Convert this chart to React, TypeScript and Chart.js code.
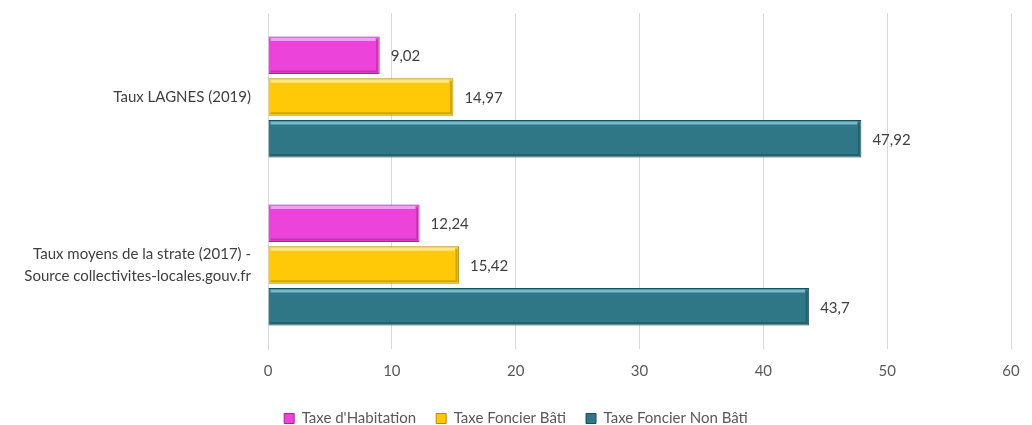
import React, { useEffect, useRef } from "react";
import { Chart, registerables } from "chart.js";

Chart.register(...registerables);

const categories: (string | string[])[] = [
  "Taux LAGNES (2019)",
  ["Taux moyens de la strate (2017) -", "Source collectivites-locales.gouv.fr"],
];
const seriesNames = ["Taxe d'Habitation", "Taxe Foncier Bâti", "Taxe Foncier Non Bâti"];
const habitation = [9.02, 12.24];
const foncierBati = [14.97, 15.42];
const foncierNonBati = [47.92, 43.7];
const xTicks = [0, 10, 20, 30, 40, 50, 60];

const FONT = "Lato, 'Open Sans', sans-serif";

const fills = ["#EC43DA", "#FFC907", "#2F7686"];
const borders = ["#A8239A", "#B88C00", "#1C4F5B"];
const highlights = ["rgba(255,170,250,0.85)", "rgba(255,236,150,0.85)", "rgba(130,200,215,0.85)"];

const labelPlugin = {
  id: "valueLabels",
  afterDatasetsDraw(chart: any) {
    const ctx = chart.ctx;
    ctx.save();
    chart.data.datasets.forEach((ds: any, di: number) => {
      const meta = chart.getDatasetMeta(di);
      meta.data.forEach((bar: any) => {
        const { x, y, base, height } = bar.getProps(["x", "y", "base", "height"], true);
        const top = y - height / 2;
        const bottom = y + height / 2;
        ctx.strokeStyle = highlights[di];
        ctx.lineWidth = 3;
        ctx.beginPath();
        ctx.moveTo(base + 2, top + 3);
        ctx.lineTo(x - 4, top + 3);
        ctx.stroke();
        ctx.strokeStyle = "rgba(0,0,0,0.18)";
        ctx.lineWidth = 2;
        ctx.beginPath();
        ctx.moveTo(base + 2, bottom - 2.5);
        ctx.lineTo(x - 2.5, bottom - 2.5);
        ctx.lineTo(x - 2.5, top + 3);
        ctx.stroke();
      });
    });
    ctx.fillStyle = "#404040";
    ctx.font = `15px ${FONT}`;
    ctx.textAlign = "left";
    ctx.textBaseline = "middle";
    chart.data.datasets.forEach((ds: any, di: number) => {
      const meta = chart.getDatasetMeta(di);
      meta.data.forEach((bar: any, i: number) => {
        const v = ds.data[i];
        const txt = String(v).replace(".", ",");
        ctx.fillText(txt, bar.x + 11, bar.y + 1);
      });
    });
    ctx.restore();
  },
};

export default function App() {
  const ref = useRef<HTMLCanvasElement | null>(null);
  useEffect(() => {
    if (!ref.current) return;
    const chart = new Chart(ref.current, {
      type: "bar",
      data: {
        labels: categories,
        datasets: [habitation, foncierBati, foncierNonBati].map((d, i) => ({
          label: seriesNames[i],
          data: d,
          backgroundColor: fills[i],
          borderColor: borders[i],
          borderWidth: 1,
          categoryPercentage: 0.745,
          barPercentage: 0.9,
        })),
      },
      options: {
        indexAxis: "y",
        animation: false,
        responsive: false,
        maintainAspectRatio: false,
        layout: { padding: { top: 13, right: 0, left: 0, bottom: 0 } },
        scales: {
          x: {
            min: 0,
            max: 60,
            afterBuildTicks: (scale: any) => {
              scale.ticks = xTicks.map((v) => ({ value: v }));
            },
            afterFit: (scale: any) => {
              scale.height = 42;
              scale.paddingLeft = 0;
              scale.paddingRight = 21;
            },
            grid: { color: "#D9D9D9", drawTicks: false },
            border: { display: false },
            ticks: {
              color: "#595959",
              font: { family: FONT, size: 15 },
              padding: 13,
            },
          },
          y: {
            afterFit: (scale: any) => {
              scale.width = 268;
              scale.paddingTop = 0;
              scale.paddingBottom = 0;
            },
            grid: { display: false },
            border: { display: true, color: "#D9D9D9" },
            ticks: {
              color: "#404040",
              font: { family: FONT, size: 15, lineHeight: 1.45 },
              padding: 9,
            },
          },
        },
        plugins: {
          legend: {
            position: "bottom",
            labels: {
              boxWidth: 10,
              boxHeight: 10,
              padding: 20,
              color: "#595959",
              font: { family: FONT, size: 15 },
            },
          },
          tooltip: { enabled: false },
        },
      },
      plugins: [labelPlugin],
    } as any);
    return () => chart.destroy();
  }, []);
  return (
    <div style={{ position: "fixed", left: 0, top: 0, width: 1032, height: 436, background: "#fff" }}>
      <canvas ref={ref} width={1032} height={436} style={{ display: "block" }} />
    </div>
  );
}
